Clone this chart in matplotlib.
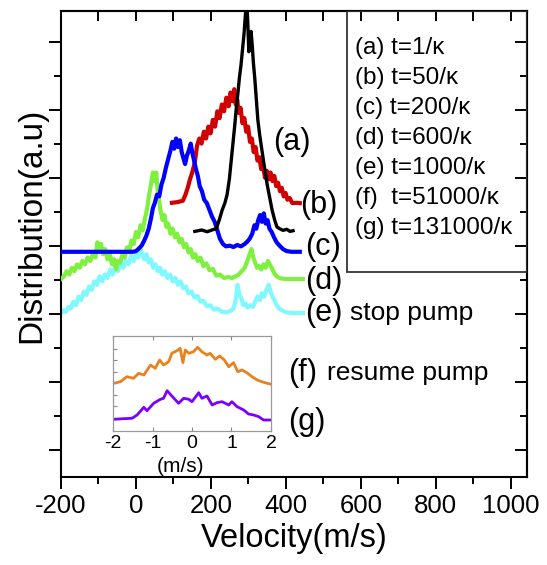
import matplotlib
matplotlib.use('Agg')
import matplotlib.pyplot as plt
from matplotlib.patches import Rectangle

plt.rcParams['font.family'] = ['Liberation Sans', 'DejaVu Sans']
plt.rcParams['axes.unicode_minus'] = False

# (velocity m/s, distribution offset)
curve_a = [(157, 7.22), (175, 7.26), (190, 7.21), (205, 7.27), (214, 7.30), (222, 7.55), (230, 7.85),
           (237, 8.05), (243, 8.30), (249, 8.75), (254, 9.30), (259, 9.85), (264, 10.40), (268, 10.90),
           (272, 11.30), (276, 11.75), (280, 12.10), (284, 12.55), (288, 13.00), (292, 13.60), (295, 14.10),
           (298, 13.40), (301, 12.50), (304, 12.80), (307, 13.10), (310, 12.70), (313, 12.20), (317, 11.70),
           (321, 11.10), (325, 10.50), (330, 10.05), (336, 9.60), (342, 9.15), (349, 8.65), (356, 8.25),
           (363, 7.85), (370, 7.55), (376, 7.35), (383, 7.30), (392, 7.25), (402, 7.28), (411, 7.22), (419, 7.24)]

curve_b = [(96, 8.06), (110, 8.08), (125, 8.12), (132, 8.30), (138, 8.50), (144, 8.75), (150, 8.95),
           (157, 9.25), (163, 9.75), (169, 9.95), (175, 9.80), (181, 10.15), (187, 9.95), (193, 10.30),
           (199, 10.10), (205, 10.50), (211, 10.30), (217, 10.75), (223, 10.55), (229, 10.95), (235, 10.75),
           (241, 11.15), (247, 10.90), (252, 11.30), (257, 11.05), (262, 11.40), (266, 10.95), (270, 11.10),
           (274, 10.70), (279, 10.85), (284, 10.40), (289, 10.55), (294, 10.15), (299, 10.30), (304, 9.85),
           (309, 9.95), (314, 9.55), (319, 9.70), (324, 9.30), (329, 9.40), (334, 9.05), (339, 9.15),
           (344, 8.80), (349, 9.00), (354, 8.75), (359, 8.95), (364, 8.70), (369, 8.85), (374, 8.55),
           (379, 8.65), (384, 8.40), (389, 8.50), (394, 8.25), (399, 8.35), (404, 8.15), (410, 8.20),
           (417, 8.05), (429, 8.06), (437, 8.05)]

curve_c = [(-200, 6.62), (-8, 6.62), (0, 6.64), (8, 6.72), (15, 6.80), (22, 6.95), (28, 7.10), (34, 7.30),
           (40, 7.60), (45, 7.90), (50, 8.05), (56, 8.30), (62, 8.25), (68, 8.60), (74, 8.80), (80, 9.10),
           (86, 9.35), (92, 9.60), (97, 9.85), (102, 9.65), (107, 9.95), (112, 9.70), (117, 9.90),
           (122, 9.55), (127, 9.35), (131, 9.20), (136, 9.45), (141, 9.60), (146, 9.80), (150, 9.55),
           (155, 9.30), (160, 9.05), (165, 8.85), (170, 8.55), (176, 8.40), (182, 8.15), (189, 8.05),
           (196, 7.85), (203, 7.65), (210, 7.50), (217, 7.25), (224, 7.00), (232, 6.85), (240, 6.78),
           (250, 6.80), (260, 6.76), (270, 6.82), (280, 6.78), (290, 6.85), (297, 6.92), (303, 7.00),
           (310, 7.15), (316, 7.40), (321, 7.30), (326, 7.55), (331, 7.70), (336, 7.50), (341, 7.75),
           (346, 7.45), (351, 7.55), (356, 7.30), (362, 7.20), (368, 7.05), (375, 6.90), (383, 6.80),
           (392, 6.70), (402, 6.64), (415, 6.62), (437, 6.62)]

curve_d = [(-200, 5.82), (-192, 5.90), (-185, 6.05), (-178, 5.95), (-171, 6.15), (-164, 6.05), (-157, 6.25),
           (-150, 6.15), (-143, 6.35), (-136, 6.25), (-129, 6.45), (-122, 6.35), (-115, 6.55), (-108, 6.45),
           (-103, 6.90), (-98, 6.70), (-93, 6.85), (-88, 6.55), (-82, 6.70), (-76, 6.40), (-70, 6.55),
           (-64, 6.25), (-58, 6.40), (-53, 6.10), (-48, 6.35), (-42, 6.30), (-36, 6.55), (-30, 6.45),
           (-24, 6.75), (-18, 6.65), (-12, 6.95), (-6, 6.85), (0, 7.20), (6, 7.05), (12, 7.40), (18, 7.25),
           (24, 7.60), (30, 7.90), (35, 8.30), (40, 8.60), (45, 8.95), (50, 8.70), (54, 8.95), (58, 8.40),
           (62, 8.10), (66, 7.80), (71, 7.55), (76, 7.70), (81, 7.35), (86, 7.45), (92, 7.15), (98, 7.30),
           (104, 7.05), (110, 7.15), (116, 6.90), (122, 7.00), (128, 6.75), (134, 6.85), (140, 6.60),
           (146, 6.70), (152, 6.45), (158, 6.55), (165, 6.35), (172, 6.45), (180, 6.20), (188, 6.28),
           (196, 6.08), (205, 6.12), (214, 5.92), (224, 5.95), (235, 5.85), (246, 5.88), (256, 5.85),
           (266, 5.90), (274, 5.95), (282, 6.05), (290, 6.15), (297, 6.35), (303, 6.55), (308, 6.70),
           (313, 6.45), (318, 6.30), (323, 6.15), (328, 6.20), (334, 6.10), (340, 6.25), (346, 6.15),
           (352, 6.35), (357, 6.25), (362, 6.15), (368, 6.00), (375, 5.90), (385, 5.84), (400, 5.82),
           (445, 5.82)]

curve_e = [(-200, 4.82), (-193, 4.90), (-187, 4.85), (-180, 5.00), (-174, 4.95), (-167, 5.15), (-160, 5.05),
           (-153, 5.30), (-146, 5.20), (-139, 5.45), (-132, 5.35), (-125, 5.60), (-118, 5.50), (-111, 5.75),
           (-104, 5.65), (-97, 5.90), (-90, 5.75), (-83, 5.95), (-76, 5.85), (-69, 6.10), (-62, 5.95),
           (-55, 6.20), (-48, 6.05), (-41, 6.30), (-34, 6.15), (-27, 6.35), (-20, 6.25), (-13, 6.50),
           (-6, 6.35), (0, 6.55), (6, 6.45), (12, 6.70), (17, 6.55), (22, 6.40), (28, 6.55), (34, 6.30),
           (40, 6.40), (46, 6.15), (52, 6.25), (58, 6.05), (64, 6.15), (70, 5.95), (77, 6.05), (84, 5.85),
           (91, 5.95), (98, 5.75), (105, 5.85), (112, 5.65), (119, 5.75), (126, 5.55), (133, 5.60),
           (140, 5.40), (148, 5.45), (156, 5.28), (164, 5.32), (172, 5.15), (180, 5.18), (189, 5.02),
           (198, 5.05), (208, 4.92), (218, 4.95), (230, 4.85), (242, 4.84), (252, 4.88), (260, 4.95),
           (266, 5.20), (271, 5.65), (276, 5.35), (281, 5.25), (286, 5.05), (292, 5.10), (298, 4.98),
           (305, 5.05), (312, 5.00), (318, 5.15), (324, 5.30), (330, 5.20), (336, 5.40), (342, 5.30),
           (348, 5.50), (354, 5.65), (359, 5.45), (364, 5.30), (369, 5.20), (375, 5.05), (382, 4.95),
           (390, 4.90), (400, 4.84), (420, 4.82), (445, 4.82)]

# inset (velocity, signal) for (f) and (g)
curve_f = [(-1.98, 47.7), (-1.81, 49.3), (-1.65, 54.3), (-1.48, 52.7), (-1.35, 57.7), (-1.22, 56.0),
           (-1.05, 66.0), (-0.93, 62.7), (-0.82, 71.0), (-0.72, 66.0), (-0.59, 69.3), (-0.51, 77.7),
           (-0.38, 80.3), (-0.30, 82.7), (-0.23, 68.3), (-0.17, 81.0), (-0.08, 77.7), (0.04, 79.3),
           (0.14, 83.7), (0.25, 79.3), (0.38, 76.0), (0.46, 77.7), (0.59, 71.7), (0.70, 75.0), (0.82, 71.0),
           (0.93, 64.3), (1.05, 68.3), (1.16, 59.3), (1.27, 61.0), (1.39, 58.3), (1.52, 54.3), (1.65, 51.0),
           (1.77, 49.3), (1.90, 47.7), (1.98, 47.0)]

curve_g = [(-1.98, 11.7), (-1.73, 12.3), (-1.52, 12.7), (-1.39, 16.0), (-1.22, 23.7), (-1.14, 20.3),
           (-0.97, 27.7), (-0.80, 31.7), (-0.72, 32.7), (-0.63, 40.3), (-0.51, 35.0), (-0.34, 27.7),
           (-0.21, 32.7), (-0.08, 31.7), (0.0, 29.3), (0.17, 38.3), (0.25, 32.7), (0.38, 35.0), (0.51, 26.0),
           (0.63, 28.3), (0.76, 29.3), (0.93, 26.0), (1.01, 29.3), (1.14, 24.3), (1.31, 21.0), (1.43, 17.0),
           (1.56, 16.0), (1.69, 14.3), (1.81, 11.0), (1.98, 11.0)]

legend_lines = ['(a) t=1/κ', '(b) t=50/κ', '(c) t=200/κ', '(d) t=600/κ',
                '(e) t=1000/κ', '(f)  t=51000/κ', '(g) t=131000/κ']

x_ticks = [-200, 0, 200, 400, 600, 800, 1000]
y_major = [0.8, 2.8, 4.8, 6.8, 8.8, 10.8, 12.8]
y_minor = [1.8, 3.8, 5.8, 7.8, 9.8, 11.8]

fig = plt.figure(figsize=(5.47, 5.65), dpi=100)
ax = fig.add_axes([0.1115, 0.1558, 0.852, 0.8248])

def draw(curve, color, z, lw=3.0):
    xs = [p[0] for p in curve]
    ys = [p[1] for p in curve]
    ax.plot(xs, ys, color=color, lw=lw, zorder=z)

draw(curve_e, '#80f8ff', 2)
draw(curve_d, '#80f040', 3)
draw(curve_b, '#d00000', 4)
draw(curve_c, '#0000ff', 5)
draw(curve_a, 'black', 6, lw=2.4)

ax.set_xlim(-200, 1043)
ax.set_ylim(0, 13.7)
ax.set_xticks(x_ticks)
ax.set_xticks(range(-100, 1001, 200), minor=True)
ax.set_yticks(y_major)
ax.set_yticks(y_minor, minor=True)
ax.set_yticklabels([])
ax.tick_params(which='both', direction='out', width=1.4, labelsize=18.5, top=False, right=False)
ax.tick_params(which='major', length=8.5)
ax.tick_params(which='minor', length=5)
for s in ax.spines.values():
    s.set_linewidth(1.5)

top = ax.secondary_xaxis('top')
top.set_xticks(range(-100, 1001, 100))
top.tick_params(direction='in', length=7, width=1.4, labeltop=False)
top.spines['top'].set_linewidth(1.5)

right = ax.secondary_yaxis('right')
right.set_yticks(y_major)
right.set_yticks(y_minor, minor=True)
right.tick_params(which='both', direction='in', width=1.4, labelright=False)
right.tick_params(which='major', length=8.5)
right.tick_params(which='minor', length=5)
right.spines['right'].set_linewidth(1.5)

ax.set_xlabel('Velocity(m/s)', fontsize=23.5, labelpad=4)
ax.set_ylabel('Distribution(a.u)', fontsize=24)
ax.yaxis.set_label_coords(-0.03, 0.54)

# curve labels
ax.text(365, 9.85, '(a)', fontsize=22, va='center')
ax.text(437, 8.0, '(b)', fontsize=22, va='center')
ax.text(451, 6.76, '(c)', fontsize=22, va='center')
ax.text(451, 5.76, '(d)', fontsize=22, va='center')
ax.text(451, 4.82, '(e)', fontsize=22, va='center')
ax.text(571, 4.82, 'stop pump', fontsize=19, va='center')
ax.text(405, 3.06, '(f)', fontsize=22, va='center')
ax.text(509, 3.06, 'resume pump', fontsize=19, va='center')
ax.text(405, 1.62, '(g)', fontsize=22, va='center')

# legend box
ax.add_patch(Rectangle((0.614, 0.44), 0.386, 0.56, transform=ax.transAxes,
                       fill=False, edgecolor='#333333', lw=1.3, zorder=7))
for i, lab in enumerate(legend_lines):
    ax.text(0.631, 0.921 - i * 0.0644, lab, transform=ax.transAxes, fontsize=17.5, va='center')

# inset
ins = fig.add_axes([0.2066, 0.2372, 0.2888, 0.1681])
ins.plot([p[0] for p in curve_f], [p[1] for p in curve_f], color='#e8821e', lw=2)
ins.plot([p[0] for p in curve_g], [p[1] for p in curve_g], color='#7a00ff', lw=2)
ins.set_xlim(-2, 2)
ins.set_ylim(0, 95)
ins.set_xticks([-2, -1, 0, 1, 2])
ins.set_yticks([13, 24.5, 36, 47.5, 59, 70.5, 82])
ins.set_yticklabels([])
ins.tick_params(direction='in', length=3, width=0.8, color='#888888', labelsize=14,
                top=True, right=False, pad=3)
for s in ins.spines.values():
    s.set_linewidth(0.9)
    s.set_edgecolor('#999999')
ins.set_xlabel('(m/s)', fontsize=15, labelpad=0)
ins.xaxis.set_label_coords(0.43, -0.27)

fig.savefig('out.png', dpi=100)
